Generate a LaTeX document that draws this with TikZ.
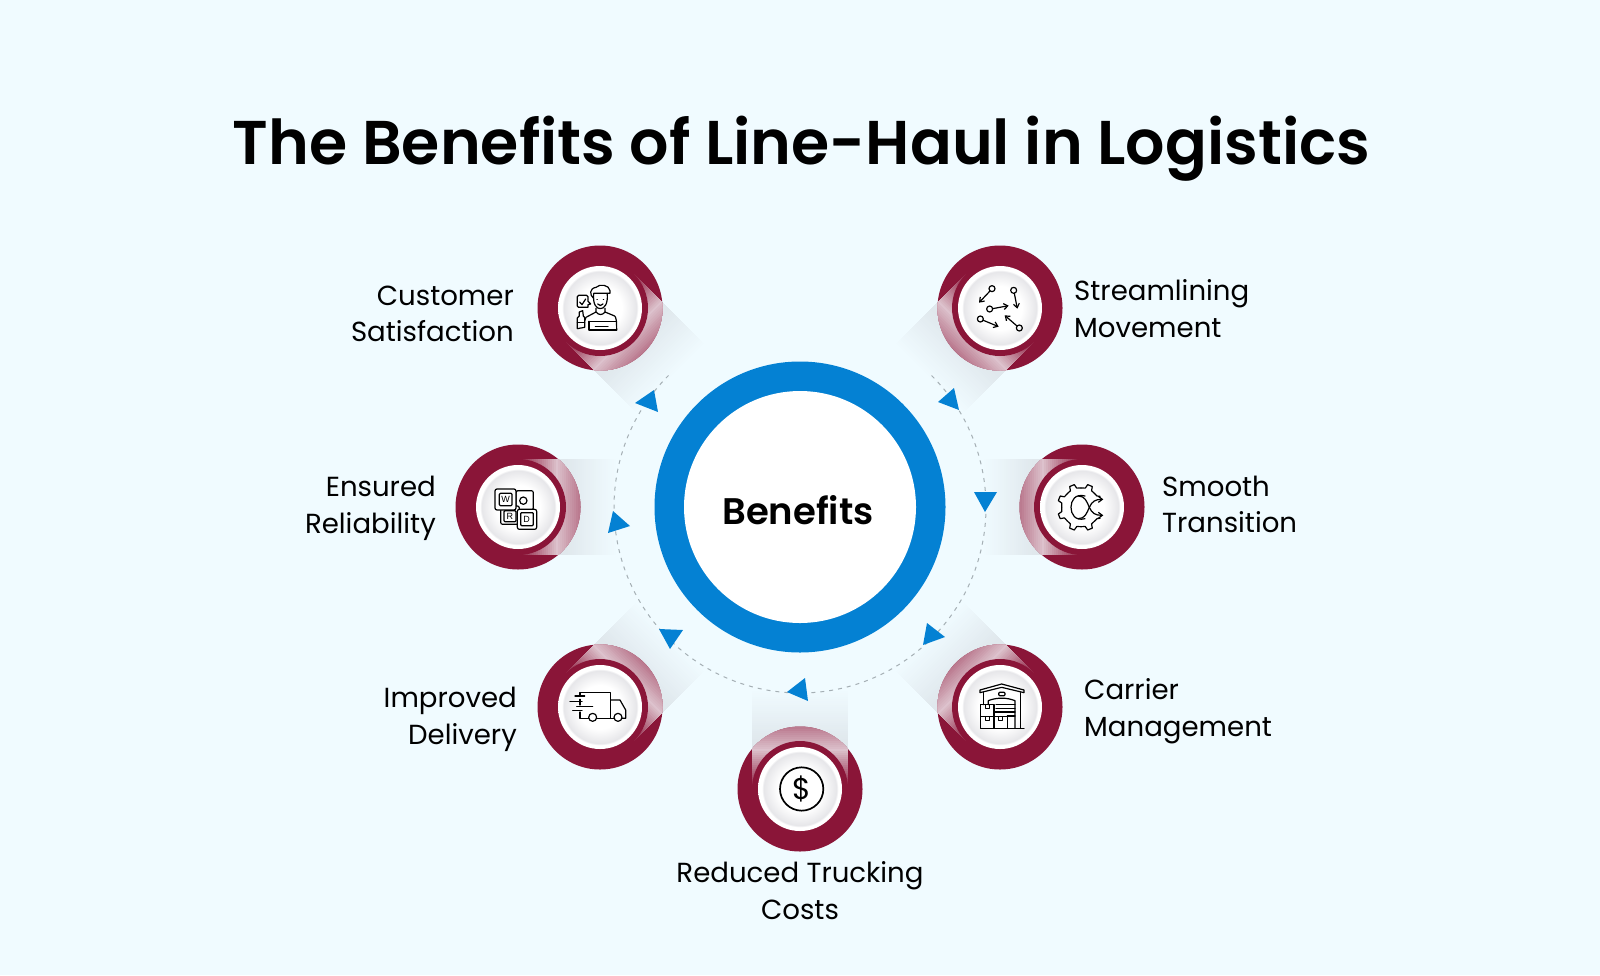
\documentclass[tikz,border=0pt]{standalone}
\usepackage{fontspec}
\usetikzlibrary{arrows.meta}
\setmainfont{Poppins}
\newfontfamily\titlefont{Poppins SemiBold}
\newfontfamily\plainfont{Liberation Sans}
\definecolor{bgc}{RGB}{240,251,255}
\definecolor{crim}{RGB}{138,21,56}
\definecolor{ringblue}{RGB}{4,129,211}
\definecolor{shgray}{RGB}{224,232,237}
\definecolor{pale}{RGB}{232,218,225}
\definecolor{dashc}{RGB}{165,175,180}
\definecolor{discgray}{RGB}{230,230,233}
\pgfdeclareradialshading{disc}{\pgfpointorigin}{color(0bp)=(white); color(13bp)=(white); color(21.8bp)=(discgray); color(22.6bp)=(white); color(50bp)=(white)}
\tikzset{
  lbl/.style={font=\fontsize{27.6}{36.7}\selectfont,text=black,inner sep=0pt},
  ic/.style={draw=black,line width=1.2pt,line cap=round,line join=round},
  hd/.style={-{Straight Barb[length=4pt,width=6pt]}},
  tri/.style={fill=ringblue,draw=none},
  tile/.style={font=\plainfont\fontsize{9}{9}\selectfont,inner sep=0pt,text=black}
}
% #1 name, #2 cx, #3 cy, #4 rotation of the shadow
\newcommand{\badge}[4]{%
  \begin{scope}[shift={(#2,#3)}]
    \begin{scope}[rotate=#4]
      \foreach \d in {100,98,...,40}{%
        \pgfmathtruncatemacro{\p}{max(0,min(100,(100-\d)*2.0))}%
        \fill[shgray!\p!bgc] (0,-48) rectangle (\d,48);
      }
    \end{scope}
    \fill[crim] (0,0) circle[radius=62.5];
    \begin{scope}
      \clip (0,0) circle[radius=62.5];
      \begin{scope}[rotate=#4]
        \foreach \d in {64,62,...,0}{%
          \pgfmathtruncatemacro{\p}{\d<40?\d*2.2:88-(\d-40)*1.6}%
          \fill[pale!\p!crim] (0,-48) rectangle (\d,48);
        }
      \end{scope}
    \end{scope}
    \fill[crim] (0,0) circle[radius=48];
    \node[circle,minimum size=84pt,inner sep=0pt,shading=disc] (#1) at (0,0) {};
  \end{scope}%
}
\begin{document}
\begin{tikzpicture}[x=1pt,y=-1pt]
\useasboundingbox (0,0) rectangle (1600,975);
\fill[bgc] (0,0) rectangle (1600,975);

\node[font=\titlefont\fontsize{61.8}{61.8}\selectfont,text=black,inner sep=0pt] (title) at (801.5,149) {The Benefits of Line-Haul in Logistics};

\badge{cust}{600}{308}{-45}
\badge{stream}{1000}{308}{-135}
\badge{reli}{518}{507}{0}
\badge{smooth}{1082}{507}{180}
\badge{deliv}{600}{707}{45}
\badge{carrier}{1000}{707}{135}
\badge{costs}{800}{789}{90}

% dashed orbit
\coordinate (hub) at (800,507);
\draw[dashc,line width=1pt,dash pattern=on 4pt off 5pt] (hub) ++(-45:186) arc[start angle=-45,end angle=225,radius=186];

% centre ring
\fill[ringblue] (hub) circle[radius=145.5];
\node[circle,fill=white,minimum size=232pt,inner sep=0pt] (benefits) at (hub) {};
\node[font=\titlefont\fontsize{37}{37}\selectfont,inner sep=0pt] (benefitstxt) at (798,510) {Benefits};

% arrow heads
\fill[tri] (635,403) -- (654,390) -- (658,412) -- cycle;
\fill[tri] (938,402) -- (954,388) -- (959,410) -- cycle;
\fill[tri] (974,492) -- (997,492) -- (985,512) -- cycle;
\fill[tri] (608,533) -- (613,511) -- (630,526) -- cycle;
\fill[tri] (659,629) -- (683,630) -- (670,649) -- cycle;
\fill[tri] (923,645) -- (927,623) -- (945,637) -- cycle;
\fill[tri] (787,692) -- (805,678) -- (808,701) -- cycle;

% labels
\node[lbl,align=right,anchor=east] (l1) at (514,314) {Customer\\Satisfaction};
\node[lbl,align=right,anchor=east] (l2) at (436,508) {Ensured\\Reliability};
\node[lbl,align=right,anchor=east] (l3) at (517,719) {Improved\\Delivery};
\node[lbl,align=left,anchor=west] (l4) at (1074,308.5) {Streamlining\\Movement};
\node[lbl,align=left,anchor=west] (l5) at (1162,504.5) {Smooth\\Transition};
\node[lbl,align=left,anchor=west] (l6) at (1084,711) {Carrier\\Management};
\node[lbl,align=center] (l7) at (800,890.5) {Reduced Trucking\\Costs};

% icon: customer
\begin{scope}[shift={(520,230)},x=.3333pt,y=-.3333pt]
  \draw[ic] (176,196) -- (200,196) -- (204,200) -- (204,214) -- (212,222) -- (204,224) -- (204,232) -- (176,232) -- (172,228) -- (172,200) -- cycle;
  \draw[ic] (179,216) -- (186,224) -- (197,207);
  \draw[ic] (221,192) .. controls (218,224) and (230,236) .. (241,236) .. controls (252,236) and (264,224) .. (262,192);
  \draw[ic] (221,205) .. controls (208,195) and (208,175) .. (228,172) .. controls (240,160) and (268,165) .. (270,182) -- (270,190) -- (221,190);
  \draw[ic] (233,222) .. controls (237,228) and (245,228) .. (249,222);
  \draw[ic] (231,208) -- (232,208) (250,208) -- (251,208);
  \draw[ic] (228,235) -- (228,246) -- (198,262) -- (194,272);
  \draw[ic] (255,235) -- (255,246) -- (284,258) .. controls (288,262) and (290,270) .. (290,300);
  \draw[ic] (228,246) .. controls (236,256) and (248,256) .. (255,246);
  \draw[ic] (207,274) -- (290,274) (207,274) -- (207,300) -- (290,300) (226,290) -- (264,290);
  \draw[ic] (172,264) -- (178,258) -- (178,246) -- (188,242) -- (190,258) -- (194,262) -- (194,292) -- (172,296) -- cycle;
  \draw[ic] (172,278) -- (194,278);
\end{scope}

% icon: streamlining
\begin{scope}[shift={(920,230)},x=.3333pt,y=-.3333pt]
  \draw[ic] (216,176) circle[radius=9];
  \draw[ic,hd] (210,183) -- (177,218);
  \draw[ic] (281,181) circle[radius=9];
  \draw[ic,hd] (283,190) -- (292,236);
  \draw[ic] (209,237) circle[radius=9];
  \draw[ic,hd] (218,236) -- (266,227);
  \draw[ic] (181,267) circle[radius=9];
  \draw[ic,hd] (190,271) -- (236,290);
  \draw[ic] (298,294) circle[radius=9];
  \draw[ic,hd] (291,288) -- (254,256);
\end{scope}

% icon: word tiles
\begin{scope}[shift={(440,430)},x=.3333pt,y=-.3333pt]
  \draw[ic,rounded corners=2pt] (228,182) rectangle (280,240);
  \draw[ic] (250,212) circle[radius=11];
  \draw[ic,rounded corners=2pt,fill=white] (182,228) rectangle (238,283);
  \draw[ic,rounded corners=2pt,fill=white] (232,238) rectangle (290,298);
  \draw[ic,rounded corners=2pt,fill=white] (165,177) rectangle (228,240);
  \draw[ic,rounded corners=1pt] (178,190) rectangle (216,227);
  \draw[ic,rounded corners=1pt] (192,242) rectangle (228,275);
  \draw[ic,rounded corners=1pt] (242,248) rectangle (280,287);
  \node[tile] (tw) at (197,209) {W};
  \node[tile] (tr) at (210,258) {R};
  \node[tile] (td) at (260,268) {D};
\end{scope}

% icon: gear
\begin{scope}[shift={(970,430)},x=.3333pt,y=-.3333pt]
  \begin{scope}[shift={(333,232)}]
    \foreach \a in {67.5,112.5,157.5,202.5,247.5,292.5}{%
      \draw[ic] (\a-22.5:58) -- (\a-10:59) -- (\a-6:71) -- (\a+6:71) -- (\a+10:59) -- (\a+22.5:58);
    }
    \draw[ic] (45:58) -- (35:59) -- (30:66);
    \draw[ic] (-45:58) -- (-35:59) -- (-30:66);
  \end{scope}
  \draw[ic] (345,198) .. controls (315,190) and (303,212) .. (303,232) .. controls (303,252) and (315,274) .. (345,266);
  \draw[ic,hd] (325,266) .. controls (345,266) and (350,250) .. (358,232) .. controls (366,214) and (376,208) .. (400,208);
  \draw[ic,hd] (325,198) .. controls (345,198) and (350,214) .. (358,232) .. controls (366,250) and (376,256) .. (400,256);
\end{scope}

% icon: truck
\begin{scope}[shift={(520,610)},x=.3333pt,y=-.3333pt]
  \draw[ic] (180,258) -- (180,248) -- (272,248) -- (272,325);
  \draw[ic] (165,258) -- (194,258) (150,275) -- (186,275) (170,290) -- (218,290) (158,302) -- (186,302);
  \draw[ic] (180,268) -- (180,285) (180,306) -- (180,325) -- (206,325) (230,325) -- (282,325);
  \draw[ic] (272,270) -- (300,270) -- (317,300) -- (317,325) -- (306,325);
  \draw[ic] (218,322) circle[radius=12];
  \draw[ic] (294,322) circle[radius=12];
\end{scope}

% icon: warehouse
\begin{scope}[shift={(920,610)},x=.3333pt,y=-.3333pt]
  \draw[ic] (180,240) -- (245,222) -- (312,240) -- (312,248) -- (245,232) -- (180,248) -- cycle;
  \draw[ic,rounded corners=1pt] (236,247) rectangle (255,257);
  \draw[ic] (190,247) -- (190,284) (302,248) -- (302,355);
  \draw[ic] (205,284) -- (205,272) .. controls (230,262) and (260,262) .. (285,272) -- (285,355);
  \draw[ic] (228,284) -- (285,284) (228,295) -- (285,295) (222,306) -- (285,306) (262,318) -- (285,318);
  \draw[ic] (182,284) rectangle (222,320);
  \draw[ic] (182,320) rectangle (222,355);
  \draw[ic] (222,320) rectangle (262,355);
  \draw[ic] (196,284) -- (196,296) -- (208,296) -- (208,284);
  \draw[ic] (196,320) -- (196,332) -- (208,332) -- (208,320);
  \draw[ic] (236,320) -- (236,332) -- (248,332) -- (248,320);
  \draw[ic] (262,355) -- (312,355);
\end{scope}

% icon: dollar
\begin{scope}[shift={(710,670)},x=.3333pt,y=-.3333pt]
  \draw[ic,line width=1.7pt] (275,357) circle[radius=65];
  \node[font=\fontsize{30}{30}\selectfont,inner sep=0pt] (dollar) at (275,357) {\$};
\end{scope}
\end{tikzpicture}
\end{document}
